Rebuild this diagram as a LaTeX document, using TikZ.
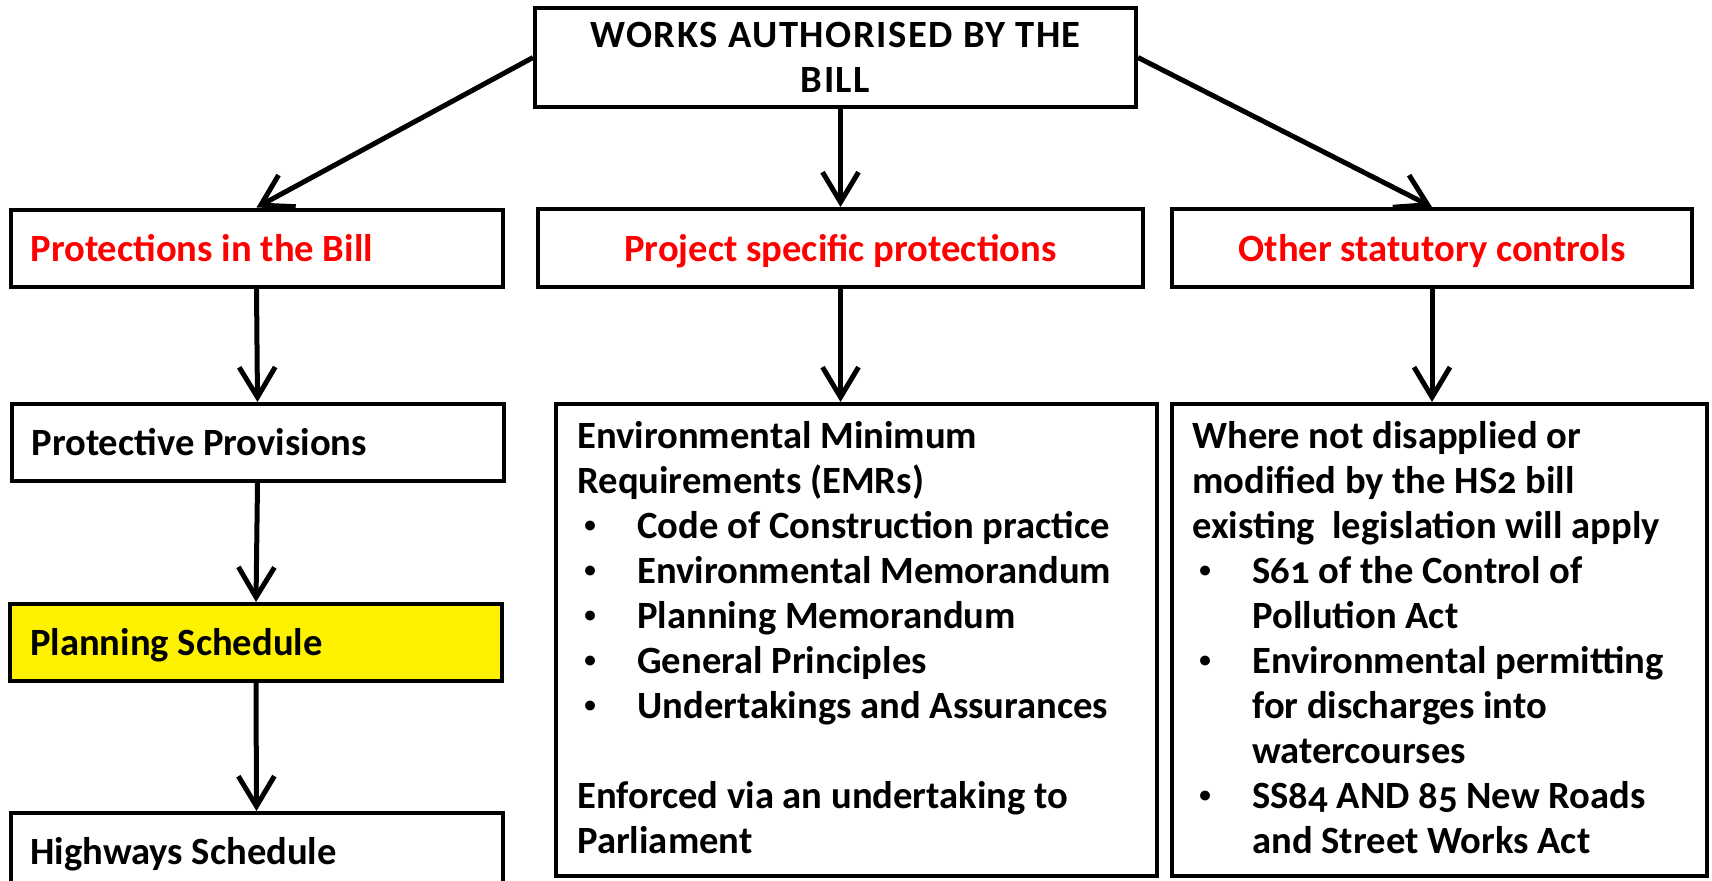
\documentclass[tikz,border=0pt]{standalone}
\usepackage{fontspec}
\setmainfont{Carlito}[Numbers=OldStyle]
\usetikzlibrary{arrows.meta,positioning,calc}

\newcommand{\lineind}[1]{\ifcase#1\or\makebox[30pt][l]{\hspace{3.5pt}\raisebox{2.6pt}{\scalebox{0.6}{\textbullet}}}\or\hspace*{30pt}\fi}

\tikzset{
  txtfont/.style={font=\fontsize{19.3}{22.5}\selectfont\bfseries},
  box/.style={draw,line width=2pt,inner xsep=10pt,inner ysep=0pt,text height=13pt,text depth=0pt,txtfont},
  lbox/.style={box,minimum width=246pt,minimum height=38.5pt,text width=226pt,align=flush left},
  cbox/.style={box,minimum height=39pt,align=center,text=red},
  titlebox/.style={draw,line width=2pt,minimum width=300.5pt,minimum height=49.5pt,inner sep=0pt,align=center,
    font=\fontsize{19.3}{22.5}\selectfont\bfseries\addfontfeatures{LetterSpace=4}},
  bigbox/.style={draw,line width=2pt,minimum height=236pt},
  ln/.style={anchor=base west,inner sep=0pt,txtfont},
  arr/.style={-{Straight Barb[length=15pt,width=18pt]},line width=2.5pt},
}

\begin{document}
\begin{tikzpicture}[x=0.5pt,y=-0.5pt]
\useasboundingbox (0,0) rectangle (1712,880);

\node[titlebox] (works) at (835.5,57.5) {WORKS AUTHORISED BY THE\\BILL};

\node[lbox,text=red] (inbill) at (256.5,248) {Protections in the Bill};
\node[cbox,minimum width=302.5pt] (specific) at (840.5,248) {Project specific protections};
\node[cbox,minimum width=260pt] (statutory) at (1432,248) {Other statutory controls};

\node[lbox] (provisions) at (257.5,442.5) {Protective Provisions};
\node[lbox,fill=yellow] (planning) at (256,642.5) {Planning Schedule};
\node[lbox] (highways) at (256.5,851.5) {Highways Schedule};

\node[bigbox,minimum width=300.5pt] (emr) at (856.5,640) {};
\node[bigbox,minimum width=267.5pt] (law) at (1439.5,640) {};

% text of the two tall boxes, one node per line
\foreach \ind/\txt [count=\i] in {0/Environmental Minimum, 0/Requirements (EMRs),
    1/Code of Construction practice, 1/Environmental Memorandum, 1/Planning Memorandum,
    1/General Principles, 1/Undertakings and Assurances}
  \node[ln] (emr-\i) at (577,{448+45*(\i-1)}) {\lineind{\ind}\txt};
\node[ln] (enforced) at (577,808) {Enforced via an undertaking to};
\node[ln] (parliament) at (577,853) {Parliament};

\foreach \ind/\txt [count=\i] in {0/Where not disapplied or, 0/modified by the HS2 bill,
    0/existing\ \ legislation will apply, 1/S61 of the Control of, 2/Pollution Act,
    1/Environmental permitting, 2/for discharges into, 2/watercourses,
    1/SS84 AND 85 New Roads, 2/and Street Works Act}
  \node[ln] (law-\i) at (1192,{448+45*(\i-1)}) {\lineind{\ind}\txt};

\draw[arr] (works.west) -- (inbill.north);
\draw[arr] (works.south -| specific.north) -- (specific.north);
\draw[arr] (works.east) -- (statutory.north);

\draw[arr] (inbill.south) -- (provisions.north);
\draw[arr] (specific.south) -- (specific.south |- emr.north);
\draw[arr] (statutory.south) -- (statutory.south |- law.north);

\draw[arr] (provisions.south) -- (planning.north);
\draw[arr] (planning.south) -- (highways.north);

\end{tikzpicture}
\end{document}
